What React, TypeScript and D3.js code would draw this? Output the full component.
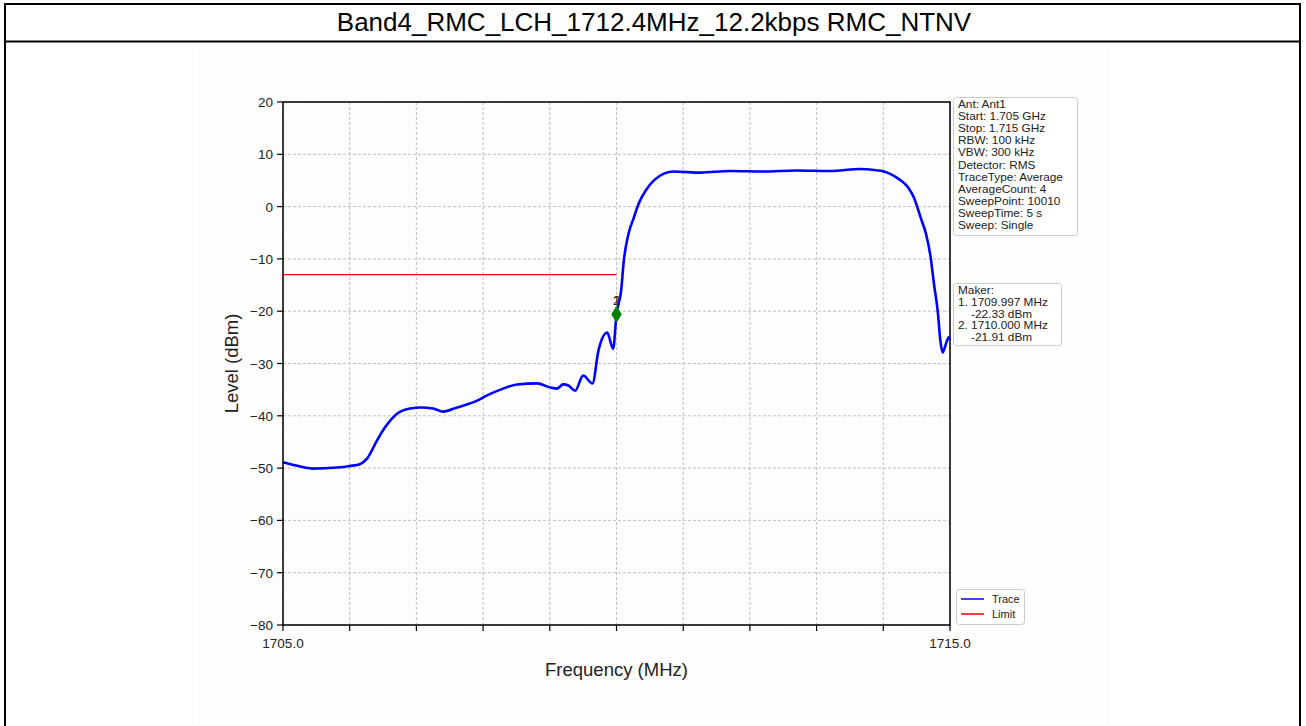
import React from "react";
import * as d3 from "d3";

const TITLE = "Band4_RMC_LCH_1712.4MHz_12.2kbps RMC_NTNV";

const freqs = [1705.0, 1705.1, 1705.45, 1705.81, 1706.0, 1706.16, 1706.26, 1706.41, 1706.53, 1706.71, 1706.91, 1707.06, 1707.25, 1707.40, 1707.61, 1707.91, 1708.06, 1708.30, 1708.51, 1708.81, 1709.01, 1709.11, 1709.20, 1709.28, 1709.38, 1709.50, 1709.64, 1709.73, 1709.86, 1709.95, 1710.0, 1710.07, 1710.11, 1710.18, 1710.26, 1710.33, 1710.44, 1710.56, 1710.71, 1710.86, 1711.26, 1711.7, 1712.2, 1712.7, 1713.2, 1713.66, 1713.86, 1714.01, 1714.11, 1714.23, 1714.37, 1714.46, 1714.56, 1714.64, 1714.71, 1714.76, 1714.82, 1714.85, 1714.89, 1714.94, 1714.98, 1715.0];
const levels = [-48.9, -49.2, -50.1, -49.9, -49.6, -49.2, -48.2, -44.7, -42.2, -39.6, -38.6, -38.4, -38.6, -39.2, -38.4, -37.1, -36.1, -34.8, -34.0, -33.8, -34.6, -34.8, -34.0, -34.2, -35.2, -32.3, -33.8, -27.5, -24.1, -27.2, -20.6, -16, -10.3, -5.2, -2.1, 0.5, 3.1, 5.0, 6.3, 6.7, 6.5, 6.8, 6.7, 6.9, 6.8, 7.2, 7.0, 6.7, 6.2, 5.3, 3.7, 1.7, -2.1, -5.2, -9.7, -14.8, -20.5, -25, -27.9, -26.2, -25, -25.5];

const limitFreqs = [1705.0, 1710.0];
const limitLevels = [-13, -13];

const markerFreqs = [1710.0, 1710.0];
const markerLevels = [-20.6, -20.6];
const markerLabels = ["2", "1"];

const xTicks = [1705, 1706, 1707, 1708, 1709, 1710, 1711, 1712, 1713, 1714, 1715];
const xTickLabels = ["1705.0", "", "", "", "", "", "", "", "", "", "1715.0"];
const yTicks = [20, 10, 0, -10, -20, -30, -40, -50, -60, -70, -80];

const infoLines = ["Ant: Ant1", "Start: 1.705 GHz", "Stop: 1.715 GHz", "RBW: 100 kHz", "VBW: 300 kHz", "Detector: RMS", "TraceType: Average", "AverageCount: 4", "SweepPoint: 10010", "SweepTime: 5 s", "Sweep: Single"];
const makerLines = ["Maker:", "1. 1709.997 MHz", "    -22.33 dBm", "2. 1710.000 MHz", "    -21.91 dBm"];
const legendNames = ["Trace", "Limit"];
const legendColors = ["#0000ff", "#ff0000"];

const FONT = "'Liberation Sans', Arial, sans-serif";

export default function App() {
  const W = 1306, H = 726;
  const x = d3.scaleLinear().domain([1705, 1715]).range([283, 950]);
  const y = d3.scaleLinear().domain([-80, 20]).range([625, 102]);
  const [x0, x1] = x.range();
  const [yb, yt] = y.range();

  const traceLine = d3.line<number>().x((_, i) => x(freqs[i])).y((d) => y(d)).curve(d3.curveMonotoneX);
  const limitLine = d3.line<number>().x((_, i) => x(limitFreqs[i])).y((d) => y(d));

  const minus = (v: number) => (v < 0 ? "\u2212" + Math.abs(v) : String(v));

  return (
    <svg width={W} height={H} style={{ position: "absolute", left: 0, top: 0, background: "#fff" }} fontFamily={FONT}>
      <rect x={0} y={0} width={W} height={H} fill="#fff" />
      <rect x={197} y={44} width={913} height={H - 44} fill="#fdfdfd" />
      {/* table borders */}
      <line x1={4.5} y1={4} x2={1300.5} y2={4} stroke="#000" strokeWidth={2} />
      <line x1={4.5} y1={41.5} x2={1300.5} y2={41.5} stroke="#000" strokeWidth={2} />
      <line x1={5} y1={3} x2={5} y2={H} stroke="#000" strokeWidth={2} />
      <line x1={1300} y1={3} x2={1300} y2={H} stroke="#000" strokeWidth={2} />
      <text x={654} y={31} textAnchor="middle" fontSize={26} fill="#000">{TITLE}</text>

      {/* grid */}
      {xTicks.map((t) => (
        <line key={"gx" + t} x1={x(t)} x2={x(t)} y1={yt} y2={yb} stroke="#b0b0b0" strokeWidth={0.8} strokeDasharray="3,2" />
      ))}
      {yTicks.map((t) => (
        <line key={"gy" + t} x1={x0} x2={x1} y1={y(t)} y2={y(t)} stroke="#b0b0b0" strokeWidth={0.8} strokeDasharray="3,2" />
      ))}

      {/* traces */}
      <path d={limitLine(limitLevels) || ""} fill="none" stroke="#ff0000" strokeWidth={1.3} />
      <path d={traceLine(levels) || ""} fill="none" stroke="#0000ff" strokeWidth={2.6} strokeLinejoin="round" />

      {/* markers */}
      {markerFreqs.map((f, i) => {
        const cx = x(f), cy = y(markerLevels[i]);
        return (
          <g key={"m" + i}>
            <path d={`M${cx},${cy - 7.5}L${cx + 4.5},${cy}L${cx},${cy + 7.5}L${cx - 4.5},${cy}Z`} fill="#008000" stroke="#008000" strokeWidth={1} />
            <text x={cx} y={cy - 9} textAnchor="middle" fontSize={13} fill="#222">{markerLabels[i]}</text>
          </g>
        );
      })}

      {/* axes frame */}
      <rect x={x0} y={yt} width={x1 - x0} height={yb - yt} fill="none" stroke="#000" strokeWidth={1.5} />
      {xTicks.map((t, i) => (
        <g key={"tx" + t}>
          <line x1={x(t)} x2={x(t)} y1={yb} y2={yb + 6} stroke="#000" strokeWidth={1.2} />
          {xTickLabels[i] && (
            <text x={x(t)} y={yb + 23} textAnchor="middle" fontSize={13.5} fill="#222">{xTickLabels[i]}</text>
          )}
        </g>
      ))}
      {yTicks.map((t) => (
        <g key={"ty" + t}>
          <line x1={x0 - 6} x2={x0} y1={y(t)} y2={y(t)} stroke="#000" strokeWidth={1.2} />
          <text x={x0 - 10} y={y(t) + 5} textAnchor="end" fontSize={13.5} fill="#222">{minus(t)}</text>
        </g>
      ))}
      <text x={(x0 + x1) / 2} y={676} textAnchor="middle" fontSize={18.5} fill="#222">Frequency (MHz)</text>
      <text transform={`translate(238,${(yt + yb) / 2}) rotate(-90)`} textAnchor="middle" fontSize={18.5} fill="#222">Level (dBm)</text>

      {/* info box */}
      <rect x={953.5} y={97.5} width={124} height={138} rx={3} fill="#fff" stroke="#cccccc" strokeWidth={1} />
      {infoLines.map((s, i) => (
        <text key={"i" + i} x={958} y={108 + i * 12.1} fontSize={11.8} fill="#222">{s}</text>
      ))}
      {/* maker box */}
      <rect x={953.5} y={283.5} width={108} height={62} rx={3} fill="#fff" stroke="#cccccc" strokeWidth={1} />
      {makerLines.map((s, i) => (
        <text key={"k" + i} x={958} y={294 + i * 11.8} fontSize={11.8} fill="#222" style={{ whiteSpace: "pre" }}>{s}</text>
      ))}
      {/* legend */}
      <rect x={956.5} y={589.5} width={68} height={35} rx={3} fill="#fff" stroke="#cccccc" strokeWidth={1} />
      {legendNames.map((n, i) => (
        <g key={"l" + i}>
          <line x1={961} x2={984} y1={599 + i * 15} y2={599 + i * 15} stroke={legendColors[i]} strokeWidth={1.5} />
          <text x={992} y={603 + i * 15} fontSize={11} fill="#222">{n}</text>
        </g>
      ))}
    </svg>
  );
}
